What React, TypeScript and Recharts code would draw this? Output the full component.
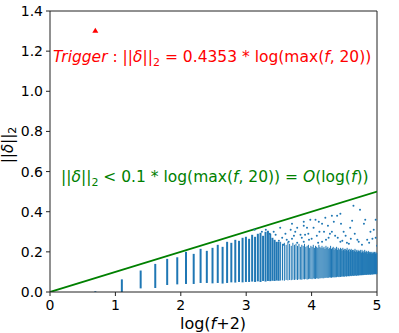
import React from "react";
import {
  ComposedChart,
  XAxis,
  YAxis,
  Line,
  Scatter,
  ErrorBar,
  ReferenceLine,
} from "recharts";

// axis ticks
const xTicks = [0, 1, 2, 3, 4, 5];
const yTicks = [0, 0.2, 0.4, 0.6, 0.8, 1.0, 1.2, 1.4];

// per-column spread of ||delta||_2, index i = f, plotted at log(f+2)
const colLo = [
  0.0, 0.0, 0.018, 0.02, 0.035, 0.038, 0.04, 0.04, 0.045, 0.045,
  0.043, 0.045, 0.042, 0.045, 0.048, 0.047, 0.05, 0.048, 0.05, 0.05,
  0.052, 0.05, 0.053, 0.05, 0.055, 0.052, 0.055, 0.054, 0.056, 0.055,
  0.057, 0.056,
  0.057, 0.058, 0.056, 0.06, 0.058, 0.06, 0.059, 0.061, 0.06, 0.062,
  0.06, 0.063, 0.062, 0.061, 0.064, 0.063, 0.065, 0.062, 0.064, 0.066,
  0.065, 0.064, 0.067, 0.066, 0.065, 0.068, 0.067, 0.066, 0.069, 0.068,
  0.07, 0.068, 0.069, 0.071, 0.07, 0.072, 0.07, 0.071, 0.073, 0.072,
  0.071, 0.073, 0.074, 0.072, 0.075, 0.073, 0.074, 0.076, 0.075, 0.074,
  0.076, 0.075, 0.077, 0.076, 0.078, 0.077, 0.076, 0.078, 0.079, 0.077,
  0.078, 0.08, 0.079, 0.078, 0.08, 0.081, 0.079, 0.08, 0.082, 0.081,
  0.08, 0.082, 0.081, 0.083, 0.082, 0.08, 0.083, 0.084, 0.082, 0.083,
  0.084, 0.083, 0.085, 0.084, 0.083, 0.085, 0.086, 0.084, 0.085, 0.086,
  0.085, 0.087, 0.086, 0.085, 0.087, 0.088, 0.086, 0.087, 0.088, 0.087,
  0.086, 0.088, 0.087, 0.089, 0.088, 0.087, 0.089, 0.088, 0.09, 0.089,
  0.088, 0.09, 0.089, 0.088, 0.09,
];
const colHi = [
  0.004, 0.063, 0.107, 0.14, 0.165, 0.173, 0.2, 0.19, 0.215, 0.205,
  0.22, 0.235, 0.225, 0.25, 0.245, 0.26, 0.255, 0.27, 0.275, 0.265,
  0.285, 0.275, 0.29, 0.295, 0.28, 0.3, 0.305, 0.29, 0.27, 0.26,
  0.25, 0.25,
  0.25, 0.24, 0.245, 0.235, 0.25, 0.24, 0.23, 0.245, 0.235, 0.24,
  0.23, 0.24, 0.225, 0.235, 0.23, 0.24, 0.225, 0.23, 0.235, 0.22,
  0.23, 0.225, 0.235, 0.22, 0.23, 0.225, 0.22, 0.235, 0.225, 0.22,
  0.23, 0.22, 0.225, 0.215, 0.23, 0.22, 0.225, 0.215, 0.22, 0.23,
  0.215, 0.22, 0.225, 0.21, 0.22, 0.215, 0.225, 0.21, 0.22, 0.215,
  0.21, 0.22, 0.215, 0.205, 0.22, 0.21, 0.215, 0.205, 0.215, 0.21,
  0.22, 0.205, 0.21, 0.215, 0.2, 0.21, 0.215, 0.205, 0.21, 0.2,
  0.21, 0.205, 0.215, 0.2, 0.21, 0.205, 0.2, 0.21, 0.205, 0.2,
  0.205, 0.21, 0.2, 0.195, 0.21, 0.2, 0.205, 0.195, 0.2, 0.21,
  0.2, 0.195, 0.205, 0.2, 0.19, 0.2, 0.205, 0.195, 0.2, 0.19,
  0.2, 0.195, 0.19, 0.2, 0.195, 0.19, 0.2, 0.195, 0.19, 0.2,
  0.195, 0.19, 0.2, 0.19, 0.195,
];
// columns from this f on merge into the dense cloud
const denseFrom = 32;

// sparse points above the dense cloud (x = log(f+2))
const outX = [
  4.64, 4.74, 4.44, 4.31, 4.21, 4.39, 3.88, 3.98, 4.06, 4.11, 4.16, 4.34, 4.8, 4.82, 4.98,
  3.93, 4.03, 4.19, 4.31, 4.59, 4.49, 4.9, 3.9, 4.08, 4.26, 4.36, 4.7, 4.85, 4.98, 4.44,
  4.16, 3.96, 4.54, 4.77, 3.13, 3.52, 3.68, 3.78, 3.88, 3.6, 3.45, 3.73, 3.83, 3.5, 3.65,
  3.78, 3.57, 3.88, 3.42, 3.24, 3.55, 3.62, 3.7, 3.75, 3.85, 3.95, 4.0, 4.12, 4.22, 4.28,
  4.4, 4.47, 4.52, 4.6, 4.66, 4.72, 4.88, 4.93, 4.57, 4.1, 3.36, 3.3, 3.7, 4.25, 4.45,
  4.62, 4.95, 5.0,
];
const outY = [
  0.43, 0.41, 0.39, 0.38, 0.37, 0.38, 0.35, 0.36, 0.36, 0.35, 0.34, 0.35, 0.34, 0.36, 0.36,
  0.32, 0.32, 0.3, 0.3, 0.32, 0.3, 0.3, 0.285, 0.28, 0.27, 0.28, 0.26, 0.26, 0.27, 0.25,
  0.25, 0.26, 0.245, 0.235, 0.31, 0.32, 0.31, 0.32, 0.33, 0.29, 0.285, 0.28, 0.285, 0.255, 0.25,
  0.245, 0.235, 0.25, 0.3, 0.3, 0.27, 0.26, 0.265, 0.3, 0.27, 0.29, 0.265, 0.3, 0.26, 0.29,
  0.27, 0.255, 0.28, 0.265, 0.29, 0.25, 0.245, 0.265, 0.24, 0.245, 0.29, 0.31, 0.34, 0.33, 0.34,
  0.355, 0.31, 0.23,
];

// bound 0.1 * x and trigger point
const boundX = [0, 5];
const boundY = [0, 0.5];
const triggerX = [Math.log(2)];
const triggerY = [1.304];

const BLUE = "#1f77b4";
const FONT = "DejaVu Sans";

const columnData = colLo.map((lo, i) => ({
  x: Math.log(i + 2),
  y: (lo + colHi[i]) / 2,
  err: (colHi[i] - lo) / 2,
}));
const sparseCols = columnData.slice(0, denseFrom);
const denseCols = columnData.slice(denseFrom);
const outlierData = outX.map((x, i) => ({ x, y: outY[i] }));
const boundData = boundX.map((x, i) => ({ x, y: boundY[i] }));
const triggerData = triggerX.map((x, i) => ({ x, y: triggerY[i] }));

const Dot = (p: any) => <circle cx={p.cx} cy={p.cy} r={1} fill={BLUE} />;
const Triangle = (p: any) => (
  <polygon
    points={`${p.cx - 3},${p.cy + 2.5} ${p.cx + 3},${p.cy + 2.5} ${p.cx},${p.cy - 2.5}`}
    fill="#ff0000"
  />
);

const tickStyle = { fill: "#000", fontSize: 14, fontFamily: FONT };

export default function App() {
  return (
    <div style={{ position: "absolute", left: 0, top: 0, width: 399, height: 333, background: "#fff" }}>
      <ComposedChart width={399} height={333} margin={{ top: 11, right: 22, bottom: 0, left: 0 }}>
        <XAxis
          type="number"
          dataKey="x"
          domain={[0, 5]}
          ticks={xTicks}
          height={41}
          tick={tickStyle}
          tickSize={4}
          tickMargin={4}
          axisLine={{ stroke: "#222" }}
          tickLine={{ stroke: "#222" }}
          allowDataOverflow
        />
        <YAxis
          type="number"
          dataKey="y"
          domain={[0, 1.4]}
          ticks={yTicks}
          width={50}
          tick={tickStyle}
          tickSize={4}
          tickMargin={3}
          tickFormatter={(v) => v.toFixed(1)}
          axisLine={{ stroke: "#222" }}
          tickLine={{ stroke: "#222" }}
          allowDataOverflow
        />
        <ReferenceLine y={1.4} stroke="#222" />
        <ReferenceLine x={5} stroke="#222" />
        <Scatter data={sparseCols} dataKey="y" shape={() => <g />} isAnimationActive={false}>
          <ErrorBar dataKey="err" direction="y" width={0} stroke={BLUE} strokeWidth={2} />
        </Scatter>
        <Scatter data={denseCols} dataKey="y" shape={() => <g />} isAnimationActive={false}>
          <ErrorBar dataKey="err" direction="y" width={0} stroke={BLUE} strokeWidth={1} />
        </Scatter>
        <Scatter data={outlierData} dataKey="y" shape={Dot} isAnimationActive={false} />
        <Line
          data={boundData}
          dataKey="y"
          stroke="#008000"
          strokeWidth={1.8}
          dot={false}
          isAnimationActive={false}
        />
        <Scatter data={triggerData} dataKey="y" shape={Triangle} isAnimationActive={false} />
      </ComposedChart>
      <svg
        width={399}
        height={333}
        style={{ position: "absolute", left: 0, top: 0, pointerEvents: "none" }}
        fontFamily={FONT}
      >
        <text x={53} y={62} fontSize={15.5} fill="#ff0000">
          <tspan fontStyle="italic">Trigger</tspan>
          <tspan> : ||</tspan>
          <tspan fontStyle="italic">δ</tspan>
          <tspan>||</tspan>
          <tspan dy={4} fontSize={11}>2</tspan>
          <tspan dy={-4}> = 0.4353 * log(max(</tspan>
          <tspan fontStyle="italic">f</tspan>
          <tspan>, 20))</tspan>
        </text>
        <text x={61} y={182} fontSize={15.5} fill="#008000">
          <tspan>||</tspan>
          <tspan fontStyle="italic">δ</tspan>
          <tspan>||</tspan>
          <tspan dy={4} fontSize={11}>2</tspan>
          <tspan dy={-4}> &lt; 0.1 * log(max(</tspan>
          <tspan fontStyle="italic">f</tspan>
          <tspan>, 20)) = </tspan>
          <tspan fontStyle="italic">O</tspan>
          <tspan>(log(</tspan>
          <tspan fontStyle="italic">f</tspan>
          <tspan>))</tspan>
        </text>
        <text x={213} y={329} fontSize={16} fill="#000" textAnchor="middle">
          <tspan>log(</tspan>
          <tspan fontStyle="italic">f</tspan>
          <tspan>+2)</tspan>
        </text>
        <text
          transform="translate(13,145) rotate(-90)"
          fontSize={15}
          fill="#000"
          textAnchor="middle"
        >
          <tspan>||</tspan>
          <tspan fontStyle="italic">δ</tspan>
          <tspan>||</tspan>
          <tspan dy={3} fontSize={11}>2</tspan>
        </text>
      </svg>
    </div>
  );
}
